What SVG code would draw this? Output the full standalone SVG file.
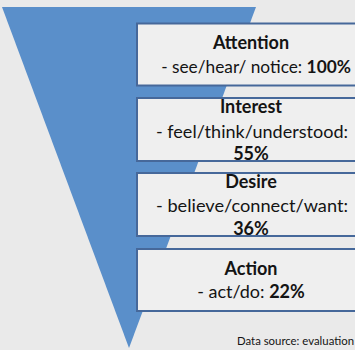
<svg xmlns="http://www.w3.org/2000/svg" width="355" height="350" viewBox="0 0 355 350">
<style>
.bg{fill:#eaeaea}
.funnel{fill:#5a8fca}
.box{fill:#efefef;stroke:#46689a;stroke-width:2}
text{font-family:Lato,"Open Sans","Liberation Sans",sans-serif;fill:#141414;text-anchor:middle}
.t{font-size:18px;font-weight:bold}
.l{font-size:18px}
.b{font-weight:bold}
.src{font-size:11px;text-anchor:start}
</style>
<rect class="bg" x="0" y="0" width="355" height="350"/>
<polygon class="funnel" points="2,7 256,7 129,348"/>
<g id="attention">
<rect class="box" x="137" y="23.5" width="240" height="62"/>
<text class="t" x="251" y="49">Attention</text>
<text class="l" x="256" y="73" style="font-size:17.3px">- see/hear/ notice: <tspan class="b">100%</tspan></text>
</g>
<g id="interest">
<rect class="box" x="137" y="98" width="240" height="63"/>
<text class="t" x="251" y="113">Interest</text>
<text class="l" x="252" y="137.5" textLength="192" lengthAdjust="spacingAndGlyphs">- feel/think/understood:</text>
<text class="t" x="251" y="160">55%</text>
</g>
<g id="desire">
<rect class="box" x="137" y="173" width="240" height="63"/>
<text class="t" x="251" y="187.5">Desire</text>
<text class="l" x="252" y="211.5" textLength="192" lengthAdjust="spacingAndGlyphs">- believe/connect/want:</text>
<text class="t" x="251" y="235">36%</text>
</g>
<g id="action">
<rect class="box" x="137" y="249" width="240" height="62"/>
<text class="t" x="251" y="275">Action</text>
<text class="l" x="251" y="298">- act/do: <tspan class="b">22%</tspan></text>
</g>
<text class="src" x="237" y="345" textLength="117" lengthAdjust="spacingAndGlyphs">Data source: evaluation</text>
</svg>
